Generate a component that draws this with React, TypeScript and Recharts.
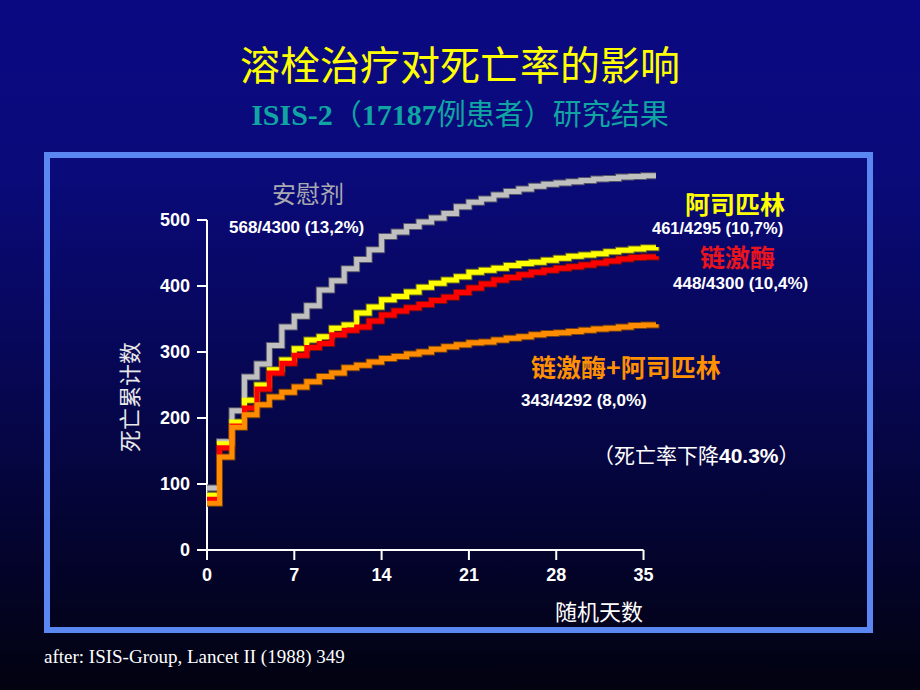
import React from "react";
import { LineChart, Line, XAxis, YAxis, ReferenceLine } from "recharts";

const days = [0, 1, 2, 3, 4, 5, 6, 7, 8, 9, 10, 11, 12, 13, 14, 15, 16, 17, 18, 19, 20, 21, 22, 23, 24, 25, 26, 27, 28, 29, 30, 31, 32, 33, 34, 35, 36];
const placebo = [94, 164, 211, 262, 282, 310, 338, 354, 370, 394, 408, 426, 440, 455, 475, 482, 490, 497, 503, 510, 520, 527, 532, 538, 543, 547, 551, 554, 556, 558, 560, 562, 563, 565, 566, 567, 567];
const aspirin = [83, 161, 194, 227, 250, 273, 288, 305, 318, 323, 336, 341, 359, 368, 379, 384, 391, 398, 404, 409, 414, 421, 424, 427, 431, 434, 436, 439, 442, 445, 447, 449, 452, 454, 456, 458, 459];
const streptokinase = [77, 155, 188, 215, 244, 268, 283, 295, 307, 313, 326, 333, 338, 347, 356, 362, 367, 372, 378, 383, 390, 397, 403, 409, 413, 417, 421, 424, 427, 429, 432, 435, 438, 441, 443, 444, 445];
const both = [71, 141, 186, 205, 220, 232, 239, 247, 255, 263, 268, 276, 280, 285, 290, 293, 297, 300, 304, 308, 311, 314, 315, 318, 321, 323, 326, 328, 329, 331, 333, 335, 336, 338, 340, 341, 342];

const xTicks = [0, 7, 14, 21, 28, 35];
const yTicks = [0, 100, 200, 300, 400, 500];

const data = days.map((d, i) => ({
  day: d,
  placebo: placebo[i],
  aspirin: aspirin[i],
  sk: streptokinase[i],
  both: both[i],
}));

const CJK = '"Noto Sans CJK SC", "Noto Sans", sans-serif';
const SANS = '"Liberation Sans", Arial, "Noto Sans CJK SC", sans-serif';
const SERIF = '"Liberation Serif", "Times New Roman", "Noto Sans CJK SC", serif';

function T(props: { left: number; top: number; size: number; color: string; bold?: boolean; font?: string; center?: boolean; children: React.ReactNode }) {
  const { left, top, size, color, bold, font, center, children } = props;
  return (
    <div
      style={{
        position: "absolute",
        left,
        top,
        transform: center ? "translate(-50%, -50%)" : "translateY(-50%)",
        fontSize: size,
        color,
        fontWeight: bold ? "bold" : "normal",
        fontFamily: font || CJK,
        whiteSpace: "nowrap",
        lineHeight: 1,
        display: "flex",
        alignItems: "baseline",
      }}
    >
      {children}
    </div>
  );
}

const series = [
  { key: "placebo", color: "#c0c0c0", dark: "#55556a" },
  { key: "aspirin", color: "#ffff00", dark: "#6a6a20" },
  { key: "sk", color: "#ff0000", dark: "#701010" },
  { key: "both", color: "#ff8c00", dark: "#704010" },
];

export default function App() {
  return (
    <div
      style={{
        position: "absolute",
        left: 0,
        top: 0,
        width: 920,
        height: 690,
        overflow: "hidden",
        background: "linear-gradient(to bottom, #0b0982 0%, #0a0a7a 25%, #07075a 50%, #040430 78%, #020210 100%)",
      }}
    >
      <T left={460} top={63} size={40} color="#ffff00" center>溶栓治疗对死亡率的影响</T>
      <T left={460} top={114} size={29} color="#10a5a2" center>
        <span style={{ fontFamily: SERIF, fontWeight: "bold", fontSize: 30 }}>ISIS-2</span>
        <span style={{ fontFamily: CJK }}>（</span>
        <span style={{ fontFamily: SERIF, fontWeight: "bold", fontSize: 30 }}>17187</span>
        <span style={{ fontFamily: CJK }}>例患者）研究结果</span>
      </T>

      <div
        style={{
          position: "absolute",
          left: 44,
          top: 152,
          width: 829,
          height: 481,
          border: "6px solid #5b87f3",
          boxSizing: "border-box",
        }}
      />

      <div style={{ position: "absolute", left: 0, top: 0 }}>
        <LineChart
          width={920}
          height={690}
          data={data}
          margin={{ top: 154, right: 264, bottom: 110, left: 147 }}
        >
          <XAxis
            dataKey="day"
            type="number"
            domain={[0, 36]}
            ticks={xTicks}
            axisLine={false}
            tickSize={10}
            tickMargin={8}
            tickLine={{ stroke: "#ffffff", strokeWidth: 2 }}
            tick={{ fill: "#ffffff", fontSize: 18, fontWeight: "bold", fontFamily: SANS }}
            height={30}
          />
          <YAxis
            type="number"
            domain={[0, 600]}
            ticks={yTicks}
            width={60}
            tickSize={10}
            tickMargin={7}
            axisLine={false}
            tickLine={{ stroke: "#ffffff", strokeWidth: 2 }}
            tick={{ fill: "#ffffff", fontSize: 18, fontWeight: "bold", fontFamily: SANS }}
          />
          <ReferenceLine
            segment={[{ x: 0, y: 0 }, { x: 35, y: 0 }]}
            stroke="#ffffff"
            strokeWidth={2}
            ifOverflow="visible"
          />
          <ReferenceLine
            segment={[{ x: 0, y: 0 }, { x: 0, y: 500 }]}
            stroke="#ffffff"
            strokeWidth={2}
            ifOverflow="visible"
          />
          {series.map((s) => (
            <Line
              key={s.key + "-o"}
              dataKey={s.key}
              type="stepAfter"
              stroke={s.dark}
              strokeWidth={7}
              dot={false}
              activeDot={false}
              isAnimationActive={false}
            />
          ))}
          {series.map((s) => (
            <Line
              key={s.key}
              dataKey={s.key}
              type="stepAfter"
              stroke={s.color}
              strokeWidth={5}
              dot={false}
              activeDot={false}
              isAnimationActive={false}
            />
          ))}
        </LineChart>
      </div>

      <div
        style={{
          position: "absolute",
          left: 128,
          top: 397,
          transform: "translate(-50%, -50%) rotate(-90deg)",
          fontSize: 22,
          color: "#e8e8e8",
          fontFamily: CJK,
          whiteSpace: "nowrap",
          lineHeight: 1,
        }}
      >
        死亡累计数
      </div>
      <T left={555} top={610} size={22} color="#ffffff">随机天数</T>

      <T left={272} top={193} size={24} color="#a9a9b0">安慰剂</T>
      <T left={229} top={227} size={17} color="#ffffff" bold font={SANS}>568/4300 (13,2%)</T>

      <T left={685} top={203} size={25} color="#ffff00" bold>阿司匹林</T>
      <T left={652} top={228} size={16.5} color="#ffffff" bold font={SANS}>461/4295 (10,7%)</T>

      <T left={700} top={256} size={25} color="#e8141e" bold>链激酶</T>
      <T left={673} top={283} size={17} color="#ffffff" bold font={SANS}>448/4300 (10,4%)</T>

      <T left={531} top={366} size={25} color="#ff9000" bold>链激酶+阿司匹林</T>
      <T left={521} top={400} size={17} color="#ffffff" bold font={SANS}>343/4292 (8,0%)</T>

      <T left={593} top={455} size={21} color="#ffffff">
        <span>（死亡率下降</span>
        <span style={{ fontFamily: SANS, fontWeight: "bold" }}>40.3%</span>
        <span>）</span>
      </T>

      <T left={44} top={656} size={19} color="#ffffff" font={SERIF}>after: ISIS-Group, Lancet II (1988) 349</T>
    </div>
  );
}
